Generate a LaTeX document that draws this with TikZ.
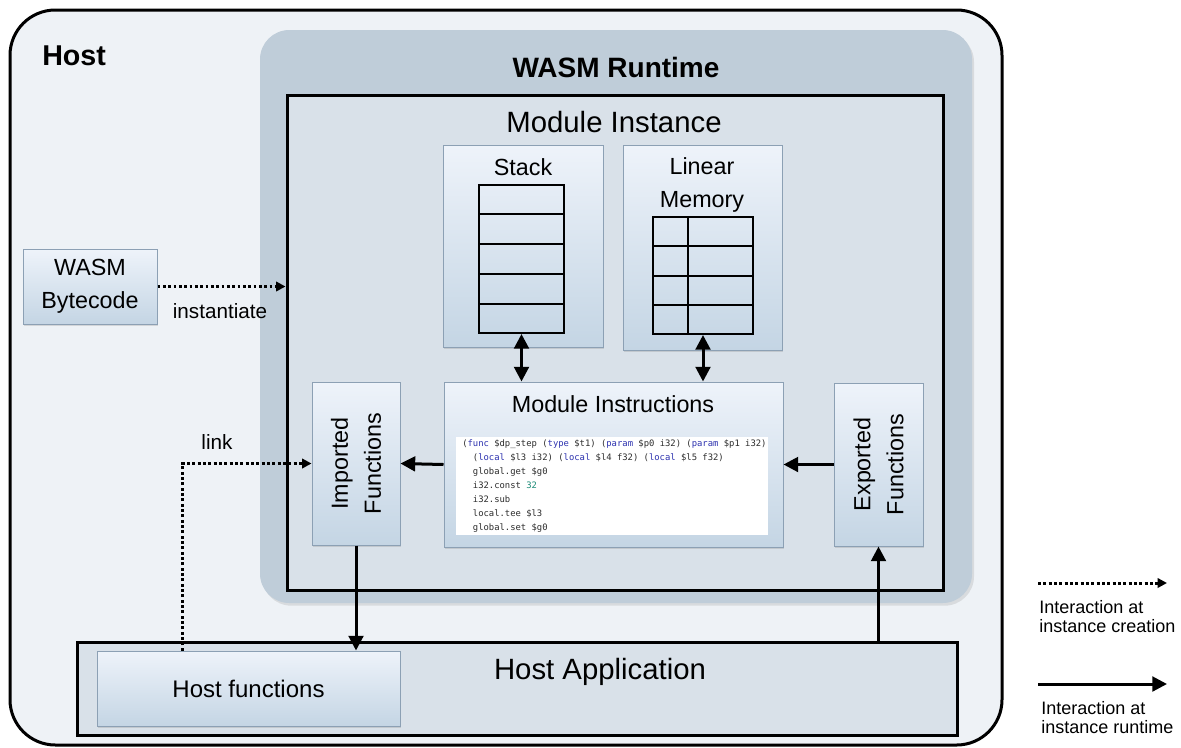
\documentclass[tikz,border=0pt]{standalone}
\usepackage{fontspec}
\setmainfont{Liberation Sans}
\newfontfamily\codefont{DejaVu Sans Mono}
\usetikzlibrary{arrows.meta, shadows, calc, positioning}

\definecolor{hostfill}{RGB}{238,242,246}
\definecolor{runtimefill}{RGB}{191,205,217}
\definecolor{instfill}{RGB}{217,225,233}
\definecolor{boxtop}{RGB}{238,243,250}
\definecolor{boxbot}{RGB}{196,213,228}
\definecolor{boxedge}{RGB}{140,160,180}
\definecolor{kwblue}{RGB}{45,50,175}
\definecolor{numteal}{RGB}{30,140,120}
\definecolor{codegray}{RGB}{45,45,45}

\newcommand{\kw}[1]{\textcolor{kwblue}{#1}}

\begin{document}
\begin{tikzpicture}[x=0.75pt, y=-0.75pt,
    container/.style={draw=black, line width=2.25pt, inner sep=0pt},
    compbox/.style={draw=boxedge, line width=0.75pt, top color=boxtop, bottom color=boxbot, inner sep=0pt,
        drop shadow={shadow xshift=1pt, shadow yshift=-1.5pt, opacity=0.25}},
    cell/.style={draw=black, line width=1.5pt, inner sep=0pt},
    runarrow/.style={line width=2.25pt, -{Triangle[length=11pt, width=11pt]}},
    twoway/.style={line width=2.25pt, {Triangle[length=11pt, width=11pt]}-{Triangle[length=11pt, width=11pt]}},
    initarrow/.style={line width=2.25pt, dash pattern=on 2.2pt off 1.8pt, -{Triangle[length=7pt, width=7pt]}},
    bigtext/.style={font=\fontsize{22}{26}\selectfont},
    midtext/.style={font=\fontsize{17.5}{24.75}\selectfont},
    smalltext/.style={font=\fontsize{15.5}{18}\selectfont},
    legendtext/.style={font=\fontsize{13.5}{14.25}\selectfont, align=left, anchor=north west, inner sep=0pt}]
    \useasboundingbox (0,0) rectangle (1181,747);

    % containers
    \node[container, fill=hostfill, rounded corners=34pt, minimum width=744pt, minimum height=551.25pt] (host) at (506,377.5) {};
    \node[font=\bfseries\fontsize{21.5}{26}\selectfont, anchor=base west, inner sep=0pt] (hostlabel) at (42,65) {Host};

    \node[fill=runtimefill, rounded corners=22pt, minimum width=534pt, minimum height=429.75pt,
        drop shadow={shadow xshift=1.5pt, shadow yshift=-2pt, opacity=0.2}] (runtime) at (616,316.5) {};
    \node[font=\bfseries\fontsize{21}{26}\selectfont, anchor=base] (runtimelabel) at (616,77) {WASM Runtime};

    \node[container, fill=instfill, minimum width=492pt, minimum height=371.25pt] (instance) at (615,342.5) {};
    \node[bigtext, anchor=base] (instancelabel) at (614,132) {Module Instance};

    % stack and linear memory
    \node[compbox, minimum width=120pt, minimum height=151.5pt] (stack) at (523,246) {};
    \node[midtext, anchor=base] (stacklabel) at (523,175) {Stack};
    \node[cell, minimum width=63.75pt, minimum height=111pt] (stacktab) at (521.5,259) {};
    \foreach \i in {1,...,4}
        \draw[line width=1.5pt] ($(stacktab.north west)!\i/5!(stacktab.south west)$) -- ($(stacktab.north east)!\i/5!(stacktab.south east)$);

    \node[compbox, minimum width=119.25pt, minimum height=153.75pt] (memory) at (702.5,247.5) {};
    \node[midtext, align=center, anchor=north, inner sep=0pt] (memorylabel) at (702,157) {Linear\\Memory};
    \node[cell, minimum width=75pt, minimum height=87.75pt] (memtab) at (703,275.5) {};
    \foreach \i in {1,...,3}
        \draw[line width=1.5pt] ($(memtab.north west)!\i/4!(memtab.south west)$) -- ($(memtab.north east)!\i/4!(memtab.south east)$);
    \draw[line width=1.5pt] ($(memtab.north west)!0.35!(memtab.north east)$) -- ($(memtab.south west)!0.35!(memtab.south east)$);

    % instructions with a code listing
    \node[compbox, minimum width=254.25pt, minimum height=123.75pt] (instr) at (613.5,464.5) {};
    \node[midtext, anchor=base] (instrlabel) at (613,412) {Module Instructions};
    \node[fill=white, minimum width=234pt, minimum height=73.5pt, inner sep=0pt] (code) at (612,486) {};
    \node[anchor=north west, inner sep=0pt, align=left, text=codegray,
        font=\codefont\fontsize{6.65}{10.5}\selectfont] (codetext) at (462,439) {%
        (\kw{func} \$dp\_step (\kw{type} \$t1) (\kw{param} \$p0 i32) (\kw{param} \$p1 i32)\\
        \hspace*{1.2em}(\kw{local} \$l3 i32) (\kw{local} \$l4 f32) (\kw{local} \$l5 f32)\\
        \hspace*{1.2em}global.get \$g0\\
        \hspace*{1.2em}i32.const \textcolor{numteal}{32}\\
        \hspace*{1.2em}i32.sub\\
        \hspace*{1.2em}local.tee \$l3\\
        \hspace*{1.2em}global.set \$g0};

    % imports and exports
    \node[compbox, minimum width=66pt, minimum height=122.25pt] (imported) at (356,463.5) {};
    \node[midtext, rotate=90, align=center] (importedlabel) at (imported) {Imported\\Functions};
    \node[compbox, minimum width=66.75pt, minimum height=122.25pt] (exported) at (878.5,464.5) {};
    \node[midtext, rotate=90, align=center] (exportedlabel) at (exported) {Exported\\Functions};

    % outside the runtime
    \node[compbox, midtext, align=center, minimum width=100.5pt, minimum height=56.25pt] (bytecode) at (90,286.5) {WASM\\Bytecode};

    \node[container, fill=instfill, minimum width=660pt, minimum height=69.75pt] (hostapp) at (517,688.5) {};
    \node[bigtext, anchor=base] (hostapplabel) at (600,679) {Host Application};
    \node[compbox, font=\fontsize{18}{22}\selectfont, minimum width=227.25pt, minimum height=56.25pt] (hostfn) at (248.5,688.5) {Host functions};

    % Connections: instance creation
    \draw[initarrow] (bytecode.east) -- (bytecode.east -| instance.west);
    \node[smalltext, anchor=base] (instlabel) at (220,318) {instantiate};

    \coordinate (linkx) at (182,464);
    \draw[initarrow] (hostfn.north -| linkx) |- (imported.west);
    \node[smalltext, anchor=base] (linklabel) at (217,449) {link};

    % Connections: runtime
    \draw[twoway] (stacktab.south) -- (stacktab.south |- instr.north);
    \draw[twoway] (memtab.south) -- (memtab.south |- instr.north);
    \draw[runarrow] (instr.west) -- (imported.east);
    \draw[runarrow] (exported.west) -- (instr.east);
    \draw[runarrow] (imported.south) -- (imported.south |- hostfn.north);
    \draw[runarrow] (exported.south |- hostapp.north) -- (exported.south);

    % legend
    \coordinate (legdot-a) at (1038,583);
    \coordinate (legdot-b) at (1167,583);
    \draw[initarrow] (legdot-a) -- (legdot-b);
    \node[legendtext] (legcreate) at (1039,600) {Interaction at\\instance creation};

    \coordinate (legrun-a) at (1038,684);
    \coordinate (legrun-b) at (1167,684);
    \draw[runarrow] (legrun-a) -- (legrun-b);
    \node[legendtext] (legrun) at (1041,701) {Interaction at\\instance runtime};
\end{tikzpicture}
\end{document}
